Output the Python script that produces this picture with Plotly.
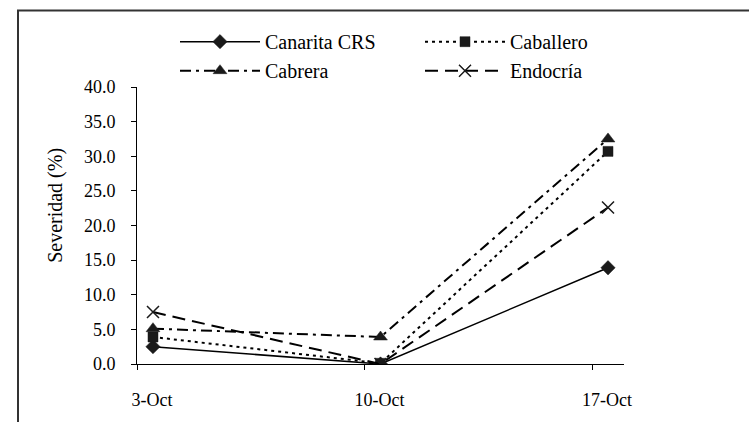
import plotly.graph_objects as go

categories = ["3-Oct", "10-Oct", "17-Oct"]
canarita = [2.5, 0.0, 13.9]
caballero = [3.9, 0.1, 30.7]
cabrera = [5.1, 3.9, 32.5]
endocria = [7.5, 0.0, 22.6]

series_names = ["Canarita CRS", "Caballero", "Cabrera", "Endocría"]
y_ticks = [0, 5, 10, 15, 20, 25, 30, 35, 40]

xs = list(range(len(categories)))
tick_off = 0.0703

styles = [
    dict(dash="solid", width=1.5, symbol="diamond", size=11),
    dict(dash="3px,4px", width=2, symbol="square", size=10),
    dict(dash="11px,5px,3px,5px", width=2, symbol="triangle-up", size=12),
    dict(dash="13px,7px", width=2, symbol="x-thin", size=12),
]

SERIF = "'Liberation Serif', 'DejaVu Serif', serif"

fig = go.Figure()
for name, vals, st in zip(series_names, [canarita, caballero, cabrera, endocria], styles):
    marker = dict(symbol=st["symbol"], size=st["size"], color="#1a1a1a",
                  line=dict(color="#1a1a1a", width=1.5 if st["symbol"] == "x-thin" else 0.5))
    fig.add_trace(go.Scatter(
        x=xs, y=vals, name=name, mode="lines+markers",
        line=dict(color="black", width=st["width"], dash=st["dash"]),
        marker=marker,
    ))

L, R, T, B = 137, 125, 87, 53
W, H = 749, 422
pw, ph = W - L - R, H - T - B

fig.update_layout(
    width=W, height=H,
    margin=dict(l=L, r=R, t=T, b=B),
    paper_bgcolor="white", plot_bgcolor="white",
    font=dict(family=SERIF, size=18, color="black"),
    showlegend=True,
    legend=dict(
        orientation="h", x=(175 - L) / pw, y=1 + (T - 21) / ph,
        xanchor="left", yanchor="top",
        font=dict(family=SERIF, size=20), itemwidth=80, entrywidth=150,
        bgcolor="rgba(0,0,0,0)", traceorder="normal",
    ),
    xaxis=dict(
        range=[xs[0] - tick_off, xs[-1] + tick_off],
        tickvals=[v - tick_off for v in xs], ticktext=categories,
        ticks="outside", ticklen=5, tickcolor="black",
        ticklabelshift=15, ticklabelstandoff=14,
        showline=True, linecolor="black", linewidth=1,
        showgrid=False, zeroline=False,
    ),
    yaxis=dict(
        range=[0, 40], tickvals=y_ticks, tickformat=".1f",
        ticks="outside", ticklen=5, tickcolor="black",
        ticklabelstandoff=12,
        showline=True, linecolor="black", linewidth=1,
        showgrid=False, zeroline=False,
    ),
    shapes=[dict(
        type="rect", xref="paper", yref="paper",
        x0=(18 - L) / pw, x1=(770 - L) / pw,
        y0=-(H - T - ph + 20) / ph, y1=1 + (T - 9) / ph,
        line=dict(color="#333333", width=2), fillcolor="rgba(0,0,0,0)", layer="below",
    )],
    annotations=[dict(
        text="Severidad (%)", xref="paper", yref="paper",
        x=(56 - L) / pw, y=(H - B - 208) / ph, textangle=-90,
        showarrow=False, font=dict(family=SERIF, size=20), xanchor="center", yanchor="middle",
    )],
)

fig.write_html("out.html")
